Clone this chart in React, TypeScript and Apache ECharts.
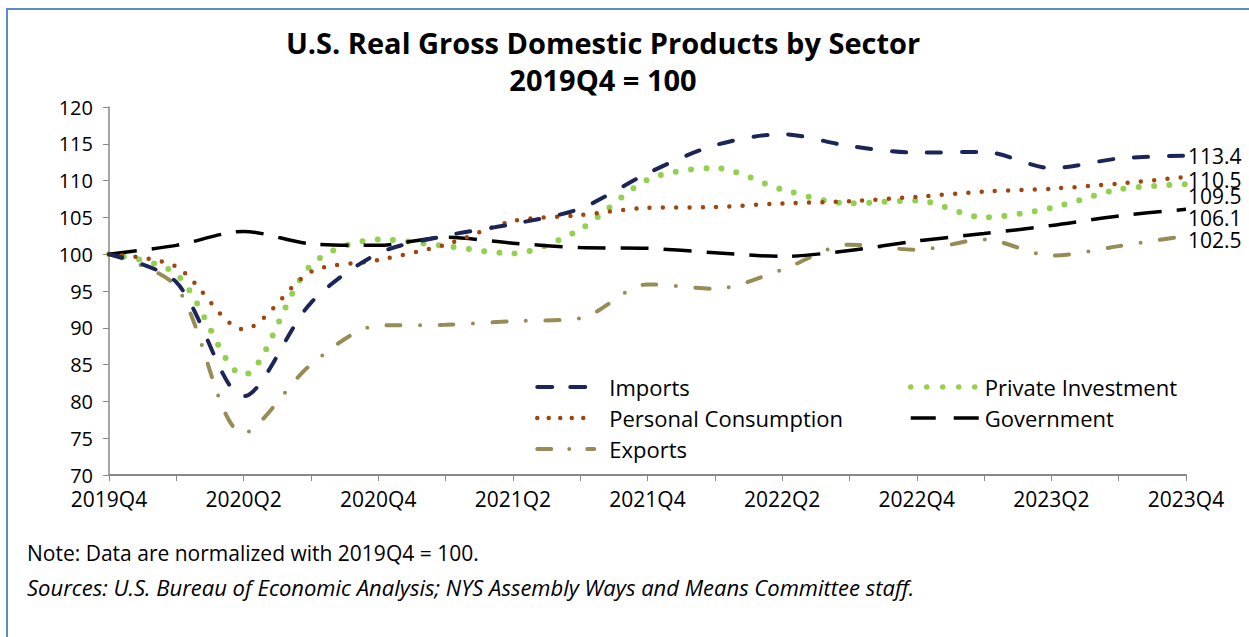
import React, { useEffect, useRef } from "react";
import * as echarts from "echarts";

const categories = [
  "2019Q4", "2020Q1", "2020Q2", "2020Q3", "2020Q4",
  "2021Q1", "2021Q2", "2021Q3", "2021Q4",
  "2022Q1", "2022Q2", "2022Q3", "2022Q4",
  "2023Q1", "2023Q2", "2023Q3", "2023Q4",
];

const imports = [100, 96.2, 80.7, 93.4, 100.1, 102.5, 104.1, 106.2, 111.0, 114.8, 116.3, 114.7, 113.8, 113.9, 111.7, 113.0, 113.4];
const privateInvestment = [100, 97.3, 83.6, 98.5, 102.0, 101.1, 100.1, 103.4, 110.1, 111.7, 108.8, 106.9, 107.3, 105.0, 106.3, 108.8, 109.5];
const personalConsumption = [100, 98.3, 89.8, 97.6, 99.2, 101.3, 104.5, 105.3, 106.3, 106.4, 106.9, 107.2, 107.8, 108.5, 108.9, 109.6, 110.5];
const government = [100, 101.2, 103.1, 101.4, 101.2, 102.3, 101.5, 100.9, 100.8, 100.2, 99.7, 100.5, 101.8, 102.8, 103.9, 105.2, 106.1];
const exportsData = [100, 95.6, 75.7, 85.0, 90.3, 90.4, 90.9, 91.3, 95.9, 95.3, 97.9, 101.3, 100.6, 102.0, 99.8, 101.1, 102.5];

const FONT = "'Open Sans', Lato, sans-serif";

const STYLES: Record<string, any> = {
  Imports: { color: "#1c2558", width: 4, type: [14, 21], cap: "round" },
  "Personal Consumption": { color: "#a0460c", width: 4.5, type: [0, 13.3], cap: "round" },
  Exports: { color: "#978c55", width: 4, type: [14, 19.5, 0, 19.5], cap: "round" },
  "Private Investment": { color: "#92d050", width: 6, type: [0, 15.3], cap: "round" },
  Government: { color: "#000000", width: 3.5, type: [28, 15], cap: "butt" },
};

const LEGEND_STYLES: Record<string, any> = {
  Imports: { color: "#1c2558", width: 4, type: [15, 18], cap: "round" },
  "Personal Consumption": { color: "#a0460c", width: 4.5, type: [0, 11.5], cap: "round" },
  Exports: { color: "#978c55", width: 4, type: [14, 18, 0, 18], cap: "round" },
  "Private Investment": { color: "#92d050", width: 5.5, type: [0, 16], cap: "round" },
  Government: { color: "#000000", width: 3.5, type: [25, 18], cap: "butt" },
};

export default function App() {
  const ref = useRef<HTMLDivElement>(null);
  useEffect(() => {
    if (!ref.current) return;
    const chart = echarts.init(ref.current, undefined, { renderer: "svg" });
    const endLabel = (dy: number) => ({
      show: true,
      formatter: (p: any) => Number(p.value).toFixed(1),
      fontFamily: FONT,
      fontSize: 21,
      lineHeight: 19,
      color: "#000",
      distance: 2,
      offset: [0, dy],
    });
    const legendText = { fontSize: 22, fontFamily: FONT, color: "#000", lineHeight: 20 };
    const legendItem = (name: string, pad: number) => ({
      name,
      textStyle: { padding: [0, 0, 0, pad] },
      lineStyle: LEGEND_STYLES[name],
    });
    const series = (name: string, data: number[], dy: number, z: number) => ({
      name,
      type: "line",
      data,
      symbol: "none",
      smooth: 0.3,
      color: STYLES[name].color,
      lineStyle: STYLES[name],
      endLabel: endLabel(dy),
      z,
    });
    const option: any = {
      animation: false,
      backgroundColor: "#fff",
      textStyle: { fontFamily: FONT },
      grid: { left: 109, right: 63, top: 107, bottom: 162, containLabel: false },
      xAxis: {
        type: "category",
        data: categories,
        boundaryGap: false,
        axisLine: { lineStyle: { color: "#888888", width: 2 } },
        axisTick: { show: true, interval: 0, length: 6, lineStyle: { color: "#888888", width: 1 } },
        axisLabel: { interval: 1, color: "#000", fontSize: 21, fontFamily: FONT, margin: 13 },
        splitLine: { show: false },
      },
      yAxis: {
        type: "value",
        min: 70,
        max: 120,
        interval: 5,
        axisLine: { show: true, lineStyle: { color: "#888888", width: 1.5 } },
        axisTick: { show: true, length: 6, lineStyle: { color: "#888888", width: 1 } },
        axisLabel: { color: "#000", fontSize: 20, fontFamily: FONT, margin: 16 },
        splitLine: { show: false },
      },
      legend: [
        {
          orient: "vertical",
          left: 530,
          top: 371,
          itemWidth: 57,
          itemHeight: 14,
          itemGap: 9,
          itemStyle: { opacity: 0 },
          textStyle: legendText,
          data: [
            legendItem("Imports", 10),
            legendItem("Personal Consumption", 10),
            legendItem("Exports", 10),
          ],
        },
        {
          orient: "vertical",
          left: 903,
          top: 371,
          itemWidth: 68,
          itemHeight: 14,
          itemGap: 9,
          itemStyle: { opacity: 0 },
          textStyle: legendText,
          data: [legendItem("Private Investment", 1), legendItem("Government", 1)],
        },
      ],
      graphic: [
        {
          type: "rect",
          shape: { x: 7, y: 9, width: 1400, height: 800 },
          style: { fill: "none", stroke: "#5b8bc9", lineWidth: 2 },
          silent: true,
        },
        {
          type: "text",
          x: 603,
          y: 42,
          style: {
            text: "U.S. Real Gross Domestic Products by Sector",
            fontFamily: FONT,
            fontSize: 29,
            fontWeight: "bold",
            fill: "#000",
            textAlign: "center",
            textVerticalAlign: "middle",
          },
        },
        {
          type: "text",
          x: 603,
          y: 79,
          style: {
            text: "2019Q4 = 100",
            fontFamily: FONT,
            fontSize: 29,
            fontWeight: "bold",
            fill: "#000",
            textAlign: "center",
            textVerticalAlign: "middle",
          },
        },
        {
          type: "text",
          x: 27,
          y: 553,
          style: {
            text: "Note: Data are normalized with 2019Q4 = 100.",
            fontFamily: FONT,
            fontSize: 21,
            fill: "#000",
            textAlign: "left",
            textVerticalAlign: "middle",
          },
        },
        {
          type: "text",
          x: 27,
          y: 587,
          style: {
            text: "Sources: U.S. Bureau of Economic Analysis; NYS Assembly Ways and Means Committee staff.",
            fontFamily: FONT,
            fontSize: 22,
            fontStyle: "italic",
            fill: "#000",
            textAlign: "left",
            textVerticalAlign: "middle",
          },
        },
      ],
      series: [
        series("Imports", imports, 0, 5),
        series("Personal Consumption", personalConsumption, 3, 4),
        series("Exports", exportsData, 4, 2),
        series("Private Investment", privateInvestment, 12, 3),
        series("Government", government, 9, 3),
      ],
    };
    chart.setOption(option);
    return () => chart.dispose();
  }, []);
  return (
    <div
      ref={ref}
      style={{ position: "absolute", left: 0, top: 0, width: 1249, height: 637 }}
    />
  );
}
